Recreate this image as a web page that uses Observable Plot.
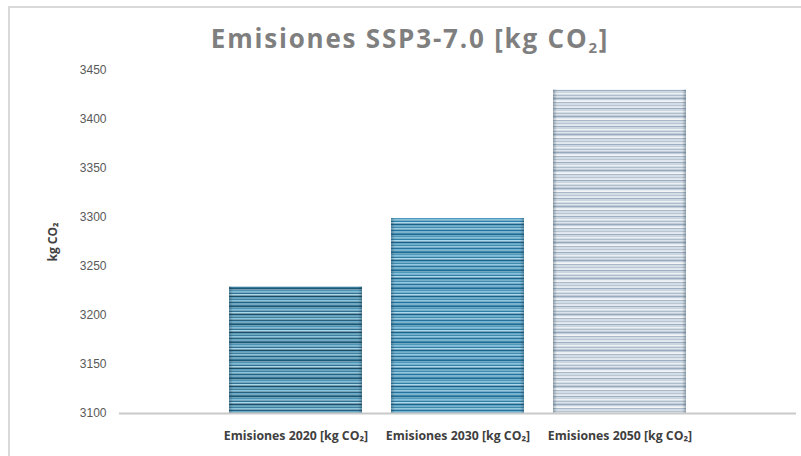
<!DOCTYPE html>
<html>
<head>
<meta charset="utf-8">
<script src="https://cdn.jsdelivr.net/npm/d3@7"></script>
<script src="https://cdn.jsdelivr.net/npm/@observablehq/plot@0.6"></script>
<style>
  html, body { margin: 0; padding: 0; background: #fff; overflow: hidden; }
  #wrap { position: relative; width: 801px; height: 456px; overflow: hidden; background: #fff; }
  #frame { position: absolute; left: 8px; top: 6px; width: 820px; height: 480px; border: 2px solid #d9d9d9; box-sizing: border-box; }
  #title { position: absolute; left: 0; width: 820px; top: 20px; text-align: center; font-family: "Open Sans", sans-serif; font-weight: 700; font-size: 26px; letter-spacing: 1.8px; color: #7f7f7f; }
  #title sub { font-size: 15px; vertical-align: -5px; line-height: 0; }
  #chart { position: absolute; left: 0; top: 0; }
</style>
</head>
<body>
<div id="wrap">
  <div id="frame"></div>
  <div id="title">Emisiones SSP3-7.0 [kg CO<sub>2</sub>]</div>
  <div id="chart"></div>
</div>
<script>
const categories = ["Emisiones 2020 [kg CO₂]", "Emisiones 2030 [kg CO₂]", "Emisiones 2050 [kg CO₂]"];
const values = [3229, 3299, 3430];
const yTicks = [3100, 3150, 3200, 3250, 3300, 3350, 3400, 3450];
const yLabel = "kg CO₂";

const data = categories.map((c, i) => ({category: c, value: values[i]}));

const plot = Plot.plot({
  width: 801,
  height: 456,
  marginTop: 70,
  marginBottom: 43,
  marginLeft: 119,
  marginRight: 5,
  style: {background: "transparent", overflow: "visible"},
  x: {domain: categories, paddingInner: 0.18, paddingOuter: 0.673, label: null, axis: null},
  y: {domain: [3100, 3450], label: null, axis: null},
  color: {type: "identity"},
  marks: [
    Plot.barY(data, {x: "category", y1: 3100, y2: "value", fill: (d, i) => `url(#stripe${i})`}),
    Plot.barY(data, {x: "category", y1: 3100, y2: "value", fill: "url(#edgeShade)"}),
    Plot.ruleY([3100], {stroke: "#c9c9c9", strokeWidth: 2}),
    Plot.axisY({ticks: yTicks, tickSize: 0, tickPadding: 13, tickFormat: d => String(d),
      fontSize: 12, fill: "#595959", fontFamily: "Liberation Sans, Arial, sans-serif", label: null}),
    Plot.axisX({tickSize: 0, tickPadding: 18, fontSize: 12.3, fontWeight: "bold", fill: "#404040",
      fontFamily: "Open Sans, sans-serif", label: null}),
    Plot.text([yLabel], {frameAnchor: "left", textAnchor: "middle", dx: -66, rotate: -90, fontSize: 12, fontWeight: "bold",
      fill: "#404040", fontFamily: "Open Sans, sans-serif"})
  ]
});

// stripe patterns (style only)
const stripeSets = [
  ["#1d5873","#4f93b3","#7fbcd8","#2f7293","#a6d6ea","#1a4d66","#5c9fbd","#3c7f9f","#8cc5de","#25627f","#6aa9c6","#3a7b9a"],
  ["#1f6d94","#4f98bd","#86c1dc","#2f7fa6","#aad8ec","#1b6288","#62a7c8","#3f8bb0","#93c9e2","#26729a","#72b2d2","#418aae"],
  ["#9dafc1","#cad5e0","#ecf1f5","#afbecd","#dce4eb","#98aabd","#c2cedb","#f2f5f8","#a8b8c8","#d4dde6","#b8c6d4","#e3e9ef"]
];
const svg = d3.select(plot);
const defs = svg.insert("defs", ":first-child");
stripeSets.forEach((cols, i) => {
  const p = defs.append("pattern").attr("id", `stripe${i}`).attr("patternUnits", "userSpaceOnUse")
    .attr("width", 10).attr("height", cols.length * 1.5);
  cols.forEach((c, k) => p.append("rect").attr("x", 0).attr("y", k * 1.5).attr("width", 10).attr("height", 1.5).attr("fill", c));
});
const g = defs.append("linearGradient").attr("id", "edgeShade").attr("x1", 0).attr("x2", 1).attr("y1", 0).attr("y2", 0);
[[0, 0.35], [0.03, 0], [0.97, 0], [1, 0.35]].forEach(([o, a]) =>
  g.append("stop").attr("offset", o).attr("stop-color", "#1f3a4a").attr("stop-opacity", a));

document.getElementById("chart").appendChild(plot);
</script>
</body>
</html>
